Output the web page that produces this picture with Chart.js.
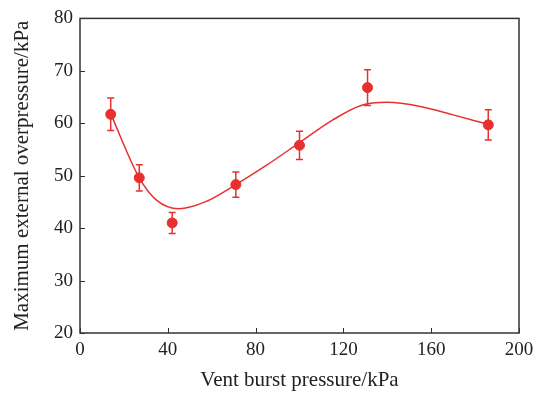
<!DOCTYPE html>
<html>
<head>
<meta charset="utf-8">
<script src="https://cdn.jsdelivr.net/npm/chart.js@4/dist/chart.umd.min.js"></script>
<style>
  html, body { margin: 0; padding: 0; background: #fff; }
</style>
</head>
<body>
<canvas id="ventChart" width="540" height="396"></canvas>
<script>
// measured points
const burstPressure = [14, 27, 42, 71, 100, 131, 186];
const overpressure = [61.7, 49.6, 41.0, 48.3, 55.8, 66.8, 59.7];
const errorBar = [3.1, 2.5, 2.0, 2.4, 2.7, 3.4, 2.9];

// fitted curve
const fitX = [14, 27, 35, 45, 57, 71, 85, 100, 115, 128, 140, 155, 170, 186];
const fitY = [61.8, 49.6, 45.3, 43.7, 45.0, 48.3, 52.0, 56.3, 60.6, 63.4, 64.0, 63.2, 61.6, 59.8];

const xTicks = [0, 40, 80, 120, 160, 200];
const yTicks = [20, 30, 40, 50, 60, 70, 80];

const red = "#e8302f";
const axisColor = "#333";

// frame, inward ticks and error bars
const framePlugin = {
  id: "frame",
  beforeDatasetsDraw: (chart) => {
    const ctx = chart.ctx;
    const a = chart.chartArea;
    const xs = chart.scales.x, ys = chart.scales.y;
    ctx.save();
    ctx.strokeStyle = axisColor;
    ctx.lineWidth = 1.5;
    ctx.strokeRect(a.left, a.top, a.right - a.left, a.bottom - a.top);
    ctx.lineWidth = 1;
    ctx.beginPath();
    xTicks.forEach(v => {
      const px = Math.round(xs.getPixelForValue(v)) + 0.5;
      ctx.moveTo(px, a.bottom);
      ctx.lineTo(px, a.bottom - 5);
    });
    yTicks.forEach(v => {
      const py = Math.round(ys.getPixelForValue(v)) + 0.5;
      ctx.moveTo(a.left, py);
      ctx.lineTo(a.left + 5, py);
    });
    ctx.stroke();
    ctx.restore();
  },
  afterDatasetsDraw: (chart) => {
    const ctx = chart.ctx;
    const xs = chart.scales.x, ys = chart.scales.y;
    ctx.save();
    ctx.strokeStyle = red;
    ctx.lineWidth = 1.5;
    ctx.beginPath();
    burstPressure.forEach((x, i) => {
      const px = xs.getPixelForValue(x);
      const top = ys.getPixelForValue(overpressure[i] + errorBar[i]);
      const bot = ys.getPixelForValue(overpressure[i] - errorBar[i]);
      ctx.moveTo(px, top); ctx.lineTo(px, bot);
      ctx.moveTo(px - 3.5, top); ctx.lineTo(px + 3.5, top);
      ctx.moveTo(px - 3.5, bot); ctx.lineTo(px + 3.5, bot);
    });
    ctx.stroke();
    ctx.restore();
  }
};

new Chart(document.getElementById("ventChart"), {
  type: "scatter",
  data: {
    datasets: [
      {
        label: "Measured",
        data: burstPressure.map((x, i) => ({ x: x, y: overpressure[i] })),
        backgroundColor: red,
        borderColor: red,
        pointRadius: 5,
        pointHoverRadius: 5,
        order: 0
      },
      {
        label: "Fit",
        data: fitX.map((x, i) => ({ x: x, y: fitY[i] })),
        showLine: true,
        borderColor: red,
        borderWidth: 1.5,
        pointRadius: 0,
        cubicInterpolationMode: "monotone",
        fill: false,
        order: 1
      }
    ]
  },
  options: {
    responsive: false,
    animation: false,
    layout: { padding: { top: 16, right: 21, left: 0, bottom: 0 } },
    plugins: {
      legend: { display: false },
      tooltip: { enabled: false }
    },
    scales: {
      x: {
        type: "linear",
        min: 0,
        max: 200,
        afterFit: (s) => { s.height = 63; },
        afterBuildTicks: (s) => { s.ticks = xTicks.map(v => ({ value: v })); },
        grid: { display: false, drawTicks: false },
        border: { display: false },
        ticks: {
          padding: 6,
          color: "#222",
          font: { family: "Liberation Serif", size: 19 }
        },
        title: {
          display: true,
          text: "Vent burst pressure/kPa",
          color: "#222",
          padding: { top: 0, bottom: 3 },
          font: { family: "Liberation Serif", size: 21 }
        }
      },
      y: {
        min: 20,
        max: 80,
        afterFit: (s) => { s.width = 80; },
        afterBuildTicks: (s) => { s.ticks = yTicks.map(v => ({ value: v })); },
        grid: { display: false, drawTicks: false },
        border: { display: false },
        ticks: {
          padding: 7,
          color: "#222",
          font: { family: "Liberation Serif", size: 19 }
        },
        title: {
          display: true,
          text: "Maximum external overpressure/kPa",
          color: "#222",
          padding: { top: 10, bottom: 0 },
          font: { family: "Liberation Serif", size: 21 }
        }
      }
    }
  },
  plugins: [framePlugin]
});
</script>
</body>
</html>
